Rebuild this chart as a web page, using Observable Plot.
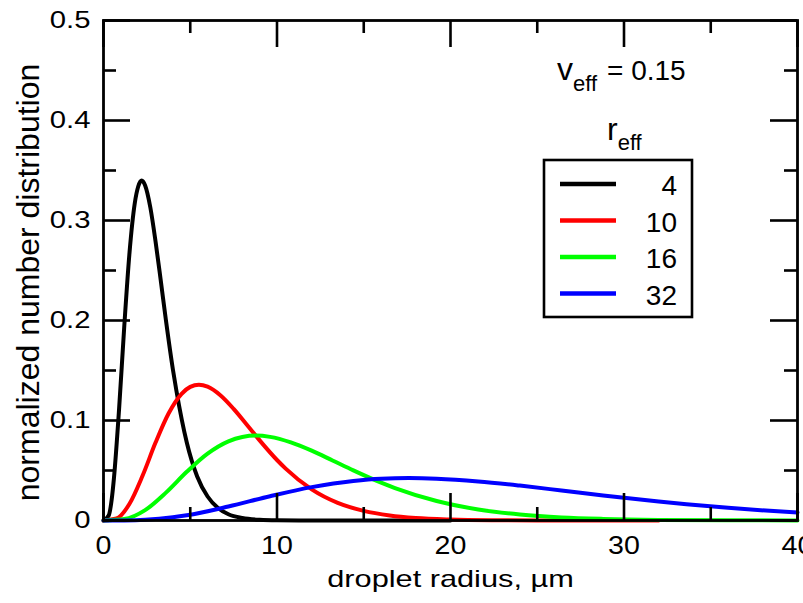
<!DOCTYPE html>
<html><head><meta charset="utf-8">
<script src="https://cdn.jsdelivr.net/npm/d3@7"></script>
<script src="https://cdn.jsdelivr.net/npm/@observablehq/plot@0.6"></script>
<style>body{margin:0;background:#fff;} #chart{width:803px;height:603px;overflow:hidden;}</style>
</head><body><div id="chart"></div>
<script>
// ---- data ----
const seriesNames = ["4", "10", "16", "32"];
const seriesColors = ["#000000", "#ff0000", "#00ff00", "#0000ff"];

const r4 = [0, 0.3, 0.5, 0.6, 0.9, 1.2, 1.5, 1.8, 2.0, 2.2, 2.4, 2.7, 3.0, 3.3, 3.6, 4.0, 4.2, 4.8, 5.4, 6.0, 6.6, 7.2, 8.0, 9.0, 10, 12, 20];
const n4 = [0, 0.005, 0.025, 0.042, 0.112, 0.195, 0.268, 0.317, 0.334, 0.340, 0.335, 0.313, 0.279, 0.240, 0.200, 0.151, 0.130, 0.078, 0.044, 0.024, 0.0125, 0.0063, 0.0025, 0.0007, 0.0002, 0, 0];

const r10 = [0, 0.75, 1.5, 2.25, 3, 3.75, 4.5, 5, 5.5, 6, 6.75, 7.5, 8.25, 9, 10, 10.5, 12, 13.5, 15, 16.5, 18, 20, 22.5, 25, 32];
const n10 = [0, 0.002, 0.0167, 0.0447, 0.0779, 0.107, 0.1267, 0.1336, 0.1358, 0.1338, 0.125, 0.1116, 0.096, 0.0801, 0.0605, 0.0519, 0.0311, 0.0176, 0.0096, 0.005, 0.0025, 0.001, 0.0003, 0.0001, 0];

const r16 = [0, 1.2, 2.4, 3.6, 4.8, 6, 7.2, 8, 8.8, 9.6, 10.8, 12, 13.2, 14.4, 16, 16.8, 19.2, 21.6, 24, 26.4, 28.8, 32, 36, 40];
const n16 = [0, 0.0014, 0.0104, 0.0279, 0.0487, 0.0669, 0.0792, 0.0835, 0.0849, 0.0836, 0.0781, 0.0698, 0.060, 0.0501, 0.0378, 0.0324, 0.0195, 0.011, 0.006, 0.0031, 0.0016, 0.0006, 0.0002, 0.0001];

const r32 = [0, 1.2, 2.4, 4, 4.8, 7.2, 9.6, 12, 14.4, 16, 17.6, 19.2, 21.6, 24, 26.4, 28.8, 32, 33.6, 36, 38.4, 40];
const n32 = [0, 0.0001, 0.0007, 0.0032, 0.0052, 0.014, 0.0243, 0.0334, 0.0396, 0.0418, 0.0424, 0.0418, 0.0391, 0.0349, 0.030, 0.025, 0.0189, 0.0162, 0.0127, 0.0097, 0.0081];

const xMajorTicks = [0, 10, 20, 30, 40];
const xMinorTicks = [5, 15, 25, 35];
const yMajorTicks = [0, 0.1, 0.2, 0.3, 0.4, 0.5];
const yMinorTicks = [0.05, 0.15, 0.25, 0.35, 0.45];
const yTickLabels = ["0", "0.1", "0.2", "0.3", "0.4", "0.5"];

const xLabel = "droplet radius, \u00b5m";
const yLabel = "normalized number distribution";
const vLabel = ["v", "eff", "= 0.15"];
const rLabel = ["r", "eff"];

// ---- build table ----
const radii = [r4, r10, r16, r32];
const values = [n4, n10, n16, n32];
const rows = [];
seriesNames.forEach((name, s) => {
  radii[s].forEach((r, i) => rows.push({reff: name, r, n: values[s][i]}));
});

const W = 803, H = 603, mL = 103, mR = 6, mT = 20, mB = 83;
const fW = W - mL - mR, fH = H - mT - mB;
const majorLen = 27, minorLen = 13;
const tickW = 2.6;
const font = "'Liberation Sans', Arial, sans-serif";

const plot = Plot.plot({
  width: W, height: H,
  marginLeft: mL, marginRight: mR, marginTop: mT, marginBottom: mB,
  style: {fontFamily: font, fontSize: "24px", color: "#000", background: "#fff", overflow: "hidden"},
  x: {domain: [0, 40]},
  y: {domain: [0, 0.5]},
  color: {domain: seriesNames, range: seriesColors},
  marks: [
    Plot.line(rows, {x: "r", y: "n", z: "reff", stroke: "reff", strokeWidth: 4, curve: "monotone-x"}),
    Plot.frame({stroke: "#000", strokeWidth: 2.8}),
    // inward ticks: bottom, top, left, right
    Plot.tickX(xMajorTicks, {x: d => d, insetTop: fH - majorLen, stroke: "#000", strokeWidth: tickW}),
    Plot.tickX(xMinorTicks, {x: d => d, insetTop: fH - minorLen, stroke: "#000", strokeWidth: tickW}),
    Plot.tickX(xMajorTicks, {x: d => d, insetBottom: fH - majorLen, stroke: "#000", strokeWidth: tickW}),
    Plot.tickX(xMinorTicks, {x: d => d, insetBottom: fH - minorLen, stroke: "#000", strokeWidth: tickW}),
    Plot.tickY(yMajorTicks, {y: d => d, insetRight: fW - majorLen, stroke: "#000", strokeWidth: tickW}),
    Plot.tickY(yMinorTicks, {y: d => d, insetRight: fW - minorLen, stroke: "#000", strokeWidth: tickW}),
    Plot.tickY(yMajorTicks, {y: d => d, insetLeft: fW - majorLen, stroke: "#000", strokeWidth: tickW}),
    Plot.tickY(yMinorTicks, {y: d => d, insetLeft: fW - minorLen, stroke: "#000", strokeWidth: tickW}),
    Plot.axisX(xMajorTicks, {tickSize: 0, tickPadding: 15, label: null, fontSize: 26}),
    Plot.axisY(yMajorTicks, {tickSize: 0, tickPadding: 13, label: null, fontSize: 24,
      tickFormat: d => yTickLabels[yMajorTicks.indexOf(d)]}),
    Plot.text([xLabel], {frameAnchor: "bottom", textAnchor: "middle", dy: 66, fontSize: 24, fill: "#000"}),
    Plot.text([yLabel], {frameAnchor: "left", textAnchor: "middle", rotate: -90, dx: -75, dy: 12, fontSize: 32, fill: "#000"})
  ]
});

const svg = d3.select(plot);

// ---- legend / annotations ----
const g = svg.append("g").attr("font-family", font).attr("fill", "#000").attr("text-anchor", "start");

const vt = g.append("text").attr("x", 557).attr("y", 80).attr("font-size", 32);
vt.append("tspan").text(vLabel[0]);
vt.append("tspan").attr("font-size", 22).attr("dy", 11).text(vLabel[1]);
vt.append("tspan").attr("x", 607).attr("dy", -11).attr("font-size", 28).text(vLabel[2]);

const rt = g.append("text").attr("x", 607).attr("y", 140).attr("font-size", 32);
rt.append("tspan").text(rLabel[0]);
rt.append("tspan").attr("font-size", 22).attr("dy", 10).text(rLabel[1]);

g.append("rect").attr("x", 544).attr("y", 160).attr("width", 148).attr("height", 157)
  .attr("fill", "#fff").attr("stroke", "#000").attr("stroke-width", 2.6);

seriesNames.forEach((name, i) => {
  const yy = 184 + i * 36.5;
  g.append("line").attr("x1", 560).attr("x2", 616).attr("y1", yy).attr("y2", yy)
    .attr("stroke", seriesColors[i]).attr("stroke-width", 4.5);
  g.append("text").attr("x", 677).attr("y", yy + 11).attr("font-size", 28)
    .attr("text-anchor", "end").text(name);
});

document.getElementById("chart").appendChild(plot);

// ---- horizontal stretch of texts to match the reference's proportions ----
function stretch(sel, s) {
  sel.each(function() {
    const L = this.getComputedTextLength();
    if (L > 0) {
      this.setAttribute("textLength", (L * s).toFixed(2));
      this.setAttribute("lengthAdjust", "spacingAndGlyphs");
    }
  });
}
stretch(svg.selectAll('g[aria-label="y-axis tick label"] text'), 1.22);
stretch(svg.selectAll('g[aria-label="x-axis tick label"] text'), 1.1);
stretch(svg.selectAll('g[aria-label="text"] text').filter(function() { return this.textContent === xLabel; }), 1.28);
</script>
</body></html>
